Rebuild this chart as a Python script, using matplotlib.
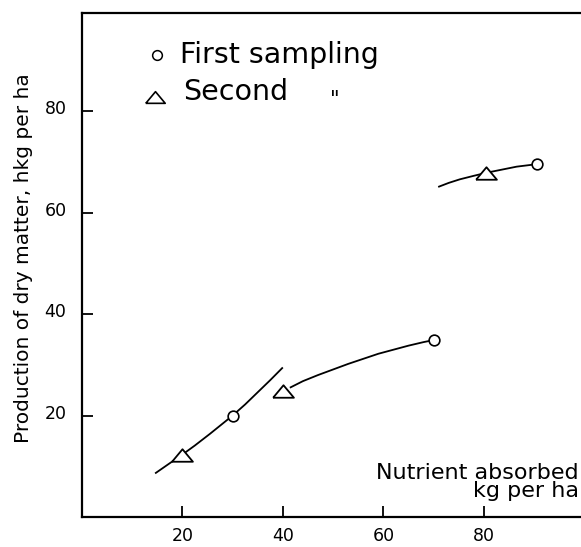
import matplotlib
matplotlib.use("Agg")
import matplotlib.pyplot as plt
import matplotlib.transforms as mtransforms

# measured points
first_x = [30, 70, 90.6]
first_y = [20, 34.9, 69.6]
second_x = [20, 40, 80.5]
second_y = [12.2, 24.8, 67.9]

# hand-drawn curves
curve1_x = [14.6, 17.5, 20, 22.5, 25.5, 28, 30, 32.5, 35, 37.5, 40]
curve1_y = [8.6, 10.6, 12.3, 14.1, 16.4, 18.4, 20, 22.2, 24.6, 27.0, 29.5]
curve2_x = [41.4, 44, 47, 50, 53, 56, 59, 62, 65, 68, 70]
curve2_y = [25.5, 26.8, 28.0, 29.1, 30.2, 31.2, 32.2, 33.0, 33.8, 34.5, 34.9]
curve3_x = [70.9, 73, 75.2, 78, 80.5, 83.5, 86.5, 90.6]
curve3_y = [65.1, 65.9, 66.6, 67.3, 67.9, 68.5, 69.1, 69.6]

xticks = [20, 40, 60, 80]
yticks = [20, 40, 60, 80]

tri = [(-1, -0.6), (1, -0.6), (0, 0.6), (-1, -0.6)]

fig = plt.figure(figsize=(5.81, 5.47), dpi=100)
ax = fig.add_axes([0.1406, 0.0548, 0.8594, 0.9214])

for cx, cy in [(curve1_x, curve1_y), (curve2_x, curve2_y), (curve3_x, curve3_y)]:
    ax.plot(cx, cy, color="black", lw=1.3, solid_capstyle="butt", solid_joinstyle="round")

ax.plot(first_x, first_y, ls="none", marker="o", ms=7.7, mfc="white",
        mec="black", mew=1.2, zorder=3)
ax.plot(second_x, second_y, ls="none", marker=tri, ms=15, mfc="white",
        mec="black", mew=1.3, zorder=3)

ax.set_xlim(0, 99.3)
ax.set_ylim(0, 99.4)
ax.set_xticks(xticks)
ax.set_yticks(yticks)
ax.set_xticklabels([str(v) for v in xticks], fontsize=12.5)
ax.set_yticklabels([str(v) for v in yticks], fontsize=12.5)
ax.tick_params(axis="both", direction="in", length=8, width=1.3)
ax.tick_params(axis="x", pad=7.5)
ax.tick_params(axis="y", pad=11)
off = mtransforms.ScaledTranslation(0, 0.04, fig.dpi_scale_trans)
for lab in ax.get_yticklabels():
    lab.set_transform(lab.get_transform() + off)

ax.spines["right"].set_visible(False)
for s in ["left", "bottom", "top"]:
    ax.spines[s].set_linewidth(1.6)

# legend drawn by hand like the original
W, H = 581.0, 547.0
fig.lines.append(plt.Line2D([156.7 / W], [1 - 55 / H], transform=fig.transFigure,
                            marker="o", ms=7, mfc="white", mec="black", mew=1.1))
fig.lines.append(plt.Line2D([155.3 / W], [1 - 96.7 / H], transform=fig.transFigure,
                            marker=tri, ms=14, mfc="white", mec="black", mew=1.2))
fig.text(180 / W, 1 - 63 / H, "First sampling", fontsize=20.5, va="baseline", ha="left")
fig.text(183 / W, 1 - 100 / H, "Second", fontsize=20.5, va="baseline", ha="left")
fig.text(330 / W, 1 - 106 / H, '"', fontsize=15, va="baseline", ha="left")

fig.text(579 / W, 1 - 501 / H, "Nutrient absorbed\nkg per ha", fontsize=16,
         va="bottom", ha="right", multialignment="right", linespacing=0.9)

fig.text(24 / W, 1 - 258.5 / H, "Production of dry matter, hkg per ha", fontsize=14.5,
         rotation=90, va="center", ha="center")

fig.savefig("out.png", dpi=100)
